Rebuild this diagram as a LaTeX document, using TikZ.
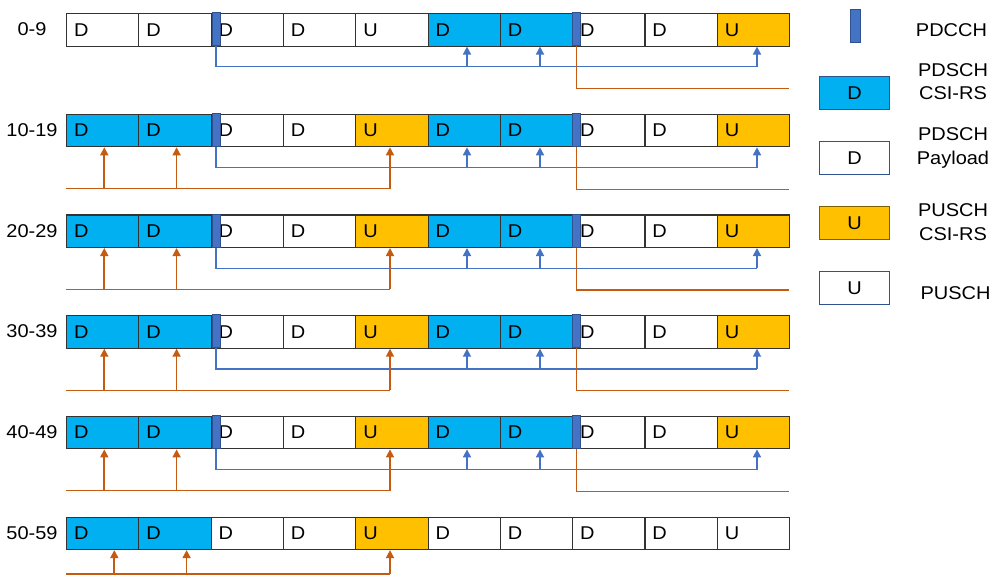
\documentclass[tikz,border=0pt]{standalone}
\usepackage{fontspec}
\setmainfont{Liberation Sans}[FakeStretch=1.08]
\usetikzlibrary{arrows.meta}
\definecolor{cyanD}{HTML}{00B0F0}
\definecolor{orgU}{HTML}{FFC000}
\definecolor{pdc}{HTML}{4472C4}
\definecolor{pdcB}{HTML}{2F528F}
\definecolor{lnB}{HTML}{4472C4}
\definecolor{lnO}{HTML}{C55A11}
\definecolor{orgB}{HTML}{7F6000}
\begin{document}
\begin{tikzpicture}[x=1pt,y=-1pt,
  font=\fontsize{18.5}{23.5}\selectfont,
  cell/.style={draw=black!80, line width=1.1pt, minimum width=72.3pt, minimum height=32.5pt,
    inner xsep=7.5pt, inner ysep=0pt, text width=57.3pt, align=left, anchor=north west},
  wD/.style={fill=white},
  wU/.style={fill=white},
  cD/.style={fill=cyanD},
  oU/.style={fill=orgU},
  rowlab/.style={inner sep=0pt},
  pdcch/.style={fill=pdc, draw=pdcB, line width=0.8pt, minimum width=8pt, minimum height=33pt, inner sep=0pt},
  bline/.style={draw=lnB, line width=1.2pt},
  barr/.style={draw=lnB, line width=1.7pt, -{Triangle[width=8pt,length=8pt]}},
  oline/.style={draw=lnO, line width=1.2pt},
  oarr/.style={draw=lnO, line width=1.7pt, -{Triangle[width=8pt,length=8pt]}},
  lgbox/.style={minimum width=70.7pt, minimum height=32.3pt, inner sep=0pt, line width=1pt},
  lgtxt/.style={align=center, inner sep=0pt}
]
\useasboundingbox (0,0) rectangle (996,576);

% rows of cells
\foreach \r/\lab/\seq in {
  0/0-9/{wD/D,wD/D,wD/D,wD/D,wU/U,cD/D,cD/D,wD/D,wD/D,oU/U},
  1/10-19/{cD/D,cD/D,wD/D,wD/D,oU/U,cD/D,cD/D,wD/D,wD/D,oU/U},
  2/20-29/{cD/D,cD/D,wD/D,wD/D,oU/U,cD/D,cD/D,wD/D,wD/D,oU/U},
  3/30-39/{cD/D,cD/D,wD/D,wD/D,oU/U,cD/D,cD/D,wD/D,wD/D,oU/U},
  4/40-49/{cD/D,cD/D,wD/D,wD/D,oU/U,cD/D,cD/D,wD/D,wD/D,oU/U},
  5/50-59/{cD/D,cD/D,wD/D,wD/D,oU/U,wD/D,wD/D,wD/D,wD/D,wU/U}}{
  \pgfmathsetmacro\yt{13+100.7*\r}
  \node[rowlab] (lab\r) at (32,\yt+16.25) {\lab};
  \foreach \s/\l [count=\k from 0] in \seq {
    \node[cell,\s] (c\r-\k) at (66+72.3*\k,\yt) {\l};
  }
}

% PDCCH bars, blue links, orange right parts
\foreach \r in {0,...,4}{
  \pgfmathsetmacro\yt{13+100.7*\r}
  \pgfmathsetmacro\yb{\yt+32.5}
  \node[pdcch] (pa\r) at (216,\yt+16.25) {};
  \node[pdcch] (pb\r) at (576.5,\yt+16.25) {};
  \coordinate (b\r-5) at (467,\yb+21.3);
  \coordinate (b\r-6) at (540,\yb+21.3);
  \coordinate (b\r-9) at (757,\yb+21.3);
  \draw[bline] (pa\r.south) |- (b\r-9);
  \draw[barr] (b\r-5) -- (b\r-5 |- c\r-5.south);
  \draw[barr] (b\r-6) -- (b\r-6 |- c\r-6.south);
  \draw[barr] (b\r-9) -- (b\r-9 |- c\r-9.south);
  \coordinate (oe\r) at (789,\yb+43);
  \draw[oline] (pb\r.south) |- (oe\r);
}

% orange left parts
\foreach \r/\dx/\yo in {1/38.3/188.7, 2/38.3/289.4, 3/38.3/390.1, 4/38.3/490.8, 5/48.3/574}{
  \coordinate (os\r) at (66,\yo);
  \coordinate (oa\r-0) at (66+\dx,\yo);
  \coordinate (oa\r-1) at (138.3+\dx,\yo);
  \coordinate (oa\r-4) at (390,\yo);
  \draw[oline] (os\r) -- (oa\r-4);
  \draw[oarr] (oa\r-0) -- (oa\r-0 |- c\r-0.south);
  \draw[oarr] (oa\r-1) -- (oa\r-1 |- c\r-1.south);
  \draw[oarr] (oa\r-4) -- (oa\r-4 |- c\r-4.south);
}

% legend
\node[pdcch, minimum width=10pt] (lg0) at (855,25.5) {};
\node[lgbox, fill=cyanD, draw=pdcB] (lg1) at (854.6,93) {D};
\node[lgbox, fill=white, draw=pdcB] (lg2) at (854.6,158) {D};
\node[lgbox, fill=orgU, draw=orgB] (lg3) at (854.6,223) {U};
\node[lgbox, fill=white, draw=pdcB] (lg4) at (854.6,288) {U};
\node[lgtxt] (lt0) at (951.5,30.5) {PDCCH};
\node[lgtxt] (lt1) at (953,81.5) {PDSCH\\CSI-RS};
\node[lgtxt] (lt2) at (953,148) {PDSCH\\Payload};
\node[lgtxt] (lt3) at (953,222) {PUSCH\\CSI-RS};
\node[lgtxt] (lt4) at (955.5,293.5) {PUSCH};
\end{tikzpicture}
\end{document}
